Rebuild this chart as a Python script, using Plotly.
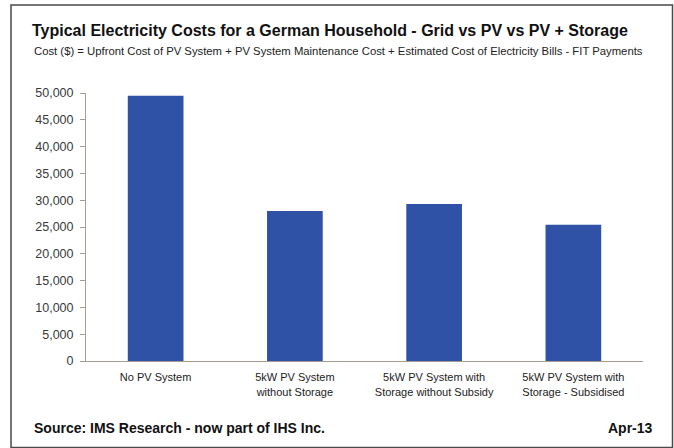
import plotly.graph_objects as go

# Household electricity cost scenarios (USD)
categories = [
    "No PV System",
    "5kW PV System<br>without Storage",
    "5kW PV System with<br>Storage without Subsidy",
    "5kW PV System with<br>Storage - Subsidised",
]
total_cost = [49500, 28000, 29300, 25400]
y_ticks = list(range(0, 50001, 5000))

W, H = 674, 448
L, R, T, B = 86, 31, 93, 87
plot_w = W - L - R
plot_h = H - T - B


def px_x(x):
    """Pixel x -> paper x."""
    return (x - L) / plot_w


def px_y(y):
    """Pixel y (from top) -> paper y."""
    return (H - B - y) / plot_h


fig = go.Figure(
    go.Bar(
        x=categories,
        y=total_cost,
        marker=dict(color="#2f52a6", line=dict(width=0)),
        width=0.4,
    )
)

axis_col = "#a89c92"
fig.update_layout(
    width=W,
    height=H,
    margin=dict(l=L, r=R, t=T, b=B),
    paper_bgcolor="white",
    plot_bgcolor="white",
    showlegend=False,
    font=dict(family="Liberation Sans, Arial", color="#333333"),
    title=dict(
        text="<b>Typical Electricity Costs for a German Household - Grid vs PV vs PV + Storage</b>",
        font=dict(size=16, color="#111111", family="Liberation Sans, Arial"),
        xref="container", yref="container",
        x=32 / W, xanchor="left",
        y=1 - 30 / H, yanchor="middle",
    ),
    xaxis=dict(
        range=[-0.5, 3.5],
        showline=True, linecolor=axis_col, linewidth=1,
        ticks="", showgrid=False,
        tickfont=dict(size=11, color="#222222"),
        ticklabelstandoff=6,
    ),
    yaxis=dict(
        range=[0, 50000],
        tickvals=y_ticks,
        tickformat=",d",
        showline=True, linecolor=axis_col, linewidth=1,
        ticks="outside", ticklen=5, tickcolor=axis_col,
        showgrid=False, zeroline=False,
        tickfont=dict(size=12.5, color="#3a3a3a"),
        ticklabelstandoff=4,
    ),
)

fig.add_annotation(
    text="Cost ($) = Upfront Cost of PV System + PV System Maintenance Cost + Estimated Cost of Electricity Bills - FIT Payments",
    xref="paper", yref="paper",
    x=px_x(32), xanchor="left",
    y=px_y(51), yanchor="middle",
    showarrow=False,
    font=dict(size=11.3, color="#222222"),
)
fig.add_annotation(
    text="<b>Source: IMS Research - now part of IHS Inc.</b>",
    xref="paper", yref="paper",
    x=px_x(32), xanchor="left",
    y=px_y(428), yanchor="middle",
    showarrow=False,
    font=dict(size=14, color="#111111"),
)
fig.add_annotation(
    text="<b>Apr-13</b>",
    xref="paper", yref="paper",
    x=px_x(655), xanchor="right",
    y=px_y(428), yanchor="middle",
    showarrow=False,
    font=dict(size=14, color="#111111"),
)

# outer frame
fig.add_shape(
    type="rect",
    xref="paper", yref="paper",
    x0=px_x(11), x1=px_x(672.5),
    y0=px_y(447.5), y1=px_y(5),
    line=dict(color="#4a4a4a", width=1.5),
    fillcolor="rgba(0,0,0,0)",
    layer="below",
)

fig.write_html("out.html")
